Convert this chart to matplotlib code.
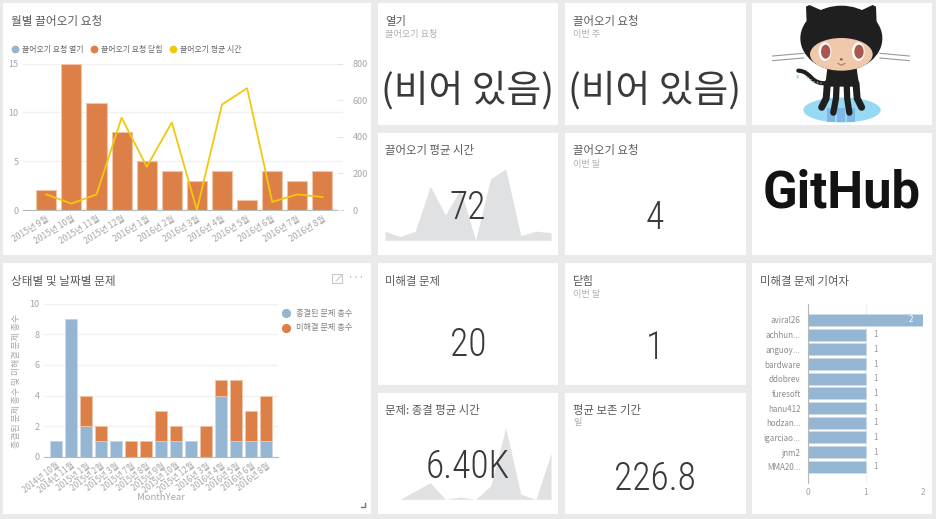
import matplotlib
matplotlib.use("Agg")
import matplotlib.pyplot as plt
from matplotlib.lines import Line2D
from matplotlib.patches import Ellipse, Polygon, Rectangle, PathPatch
from matplotlib.path import Path

plt.rcParams["font.family"] = ["Noto Sans CJK KR", "DejaVu Sans"]

W, H = 936, 519
BG = "#eaeaea"
BLUE = "#94b6d2"
ORANGE = "#dd8047"
YELLOW = "#f2c80f"
SPARK = "#dfe1e3"
TITLE = "#5a5a5a"
SUB = "#b0b0b0"
TICK = "#a6a6a6"
BIG = "#3a3a3a"

# monthly pull requests
pr_months = ["2015년 9월", "2015년 10월", "2015년 11월", "2015년 12월", "2016년 1월", "2016년 2월",
             "2016년 3월", "2016년 4월", "2016년 5월", "2016년 6월", "2016년 7월", "2016년 8월"]
pr_closed = [2, 15, 11, 8, 5, 4, 3, 4, 1, 4, 3, 4]
pr_avg_time = [85, 35, 85, 504, 236, 478, 0, 576, 665, 44, 85, 71]

# issues by state and date
issue_months = ["2014년 10월", "2014년 11월", "2015년 1월", "2015년 2월", "2015년 3월", "2015년 7월",
                "2015년 8월", "2015년 9월", "2015년 10월", "2015년 12월", "2016년 3월", "2016년 4월",
                "2016년 5월", "2016년 6월", "2016년 8월"]
issues_closed = [1, 9, 2, 1, 1, 0, 0, 1, 1, 1, 0, 4, 1, 1, 1]
issues_open = [0, 0, 2, 1, 0, 1, 1, 2, 1, 0, 2, 1, 4, 2, 3]

# open issue contributors
contributors = ["aviral26", "achhun...", "anguoy...", "bardware", "ddobrev", "furesoft",
                "hanu412", "hodzan...", "igarciao...", "jnm2", "MMA20..."]
contributor_counts = [2, 1, 1, 1, 1, 1, 1, 1, 1, 1, 1]

# sparkline behind 6.40K
close_time = [0, 0, 3900, 7800, 0, 1100, 0, 6300, 33700, 2400, 0, 21600]

cards = [(3, 3, 371, 255), (3, 263, 371, 514),
         (378, 3, 558, 125), (378, 133, 558, 255), (378, 263, 558, 385), (378, 393, 558, 514),
         (565, 3, 746, 125), (565, 133, 746, 255), (565, 263, 746, 385), (565, 393, 746, 514),
         (752, 3, 932, 125), (752, 133, 932, 255), (752, 263, 932, 514)]


def px_axes(x0, y0, x1, y1, **kw):
    return fig.add_axes([x0 / W, 1 - y1 / H, (x1 - x0) / W, (y1 - y0) / H], **kw)


fig = plt.figure(figsize=(W / 100, H / 100), dpi=100, facecolor=BG)

back = px_axes(0, 0, W, H, zorder=0)
back.set_xlim(0, W)
back.set_ylim(H, 0)
back.axis("off")
for x0, y0, x1, y1 in cards:
    back.add_patch(Rectangle((x0, y0), x1 - x0, y1 - y0, fc="white", ec="none"))

top = px_axes(0, 0, W, H, zorder=5)
top.set_xlim(0, W)
top.set_ylim(H, 0)
top.axis("off")
top.patch.set_alpha(0)


def style_axis(ax):
    for s in ["top", "left", "right"]:
        ax.spines[s].set_visible(False)
    ax.spines["bottom"].set_color("#b8b8b8")
    ax.set_axisbelow(True)
    ax.grid(axis="y", color="#f1f1f1", lw=1)
    ax.tick_params(axis="y", length=0, colors=TICK, labelsize=6.5, pad=3)
    ax.tick_params(axis="x", length=0, colors=TICK, labelsize=6.2, pad=3)


# pull requests per month
ax1 = px_axes(23, 63.5, 343, 210, zorder=1)
style_axis(ax1)
ax1.bar(range(len(pr_months)), pr_closed, width=0.8, color=ORANGE, edgecolor="#f0c4a8", lw=0.8)
ax1.set_xlim(-0.93, 11.82)
ax1.set_ylim(0, 15)
ax1.set_yticks([0, 5, 10, 15])
ax1.set_xticks(range(len(pr_months)))
ax1.set_xticklabels(pr_months, rotation=32, ha="right", rotation_mode="anchor")
ax1b = ax1.twinx()
ax1b.plot(range(len(pr_months)), pr_avg_time, color=YELLOW, lw=1.3)
ax1b.set_ylim(0, 800)
ax1b.set_yticks([0, 200, 400, 600, 800])
ax1b.tick_params(axis="y", direction="in", length=4, color="#e6e6e6", labelcolor=TICK, labelsize=6.5, pad=7)
for s in ax1b.spines.values():
    s.set_visible(False)
legend1 = [Line2D([], [], ls="", marker="o", ms=4.6, color=c, label=t) for c, t in
           [(BLUE, "끌어오기 요청 열기"), (ORANGE, "끌어오기 요청 닫힘"), (YELLOW, "끌어오기 평균 시간")]]
ax1.legend(handles=legend1, ncol=3, frameon=False, fontsize=5.7, labelcolor="#666666", loc="lower left",
           bbox_to_anchor=(-0.05, 1.065), borderaxespad=0, borderpad=0, handletextpad=-0.1, columnspacing=0.3)

# issues by state and date
ax2 = px_axes(43.7, 303.7, 278.3, 456.7, zorder=1)
style_axis(ax2)
x2 = list(range(len(issue_months)))
ax2.bar(x2, issues_closed, width=0.8, color=BLUE, edgecolor="#cddcea", lw=0.6)
ax2.bar(x2, issues_open, bottom=issues_closed, width=0.8, color=ORANGE, edgecolor="#f0c4a8", lw=0.6)
ax2.set_xlim(-0.8, 14.8)
ax2.set_ylim(0, 10)
ax2.set_yticks([0, 2, 4, 6, 8, 10])
ax2.set_xticks(x2)
ax2.set_xticklabels(issue_months, rotation=38, ha="right", rotation_mode="anchor", fontsize=5.9)
ax2.set_xlabel("MonthYear", fontsize=6.8, color=TICK)
ax2.xaxis.set_label_coords(0.5, -0.235)
ax2.set_ylabel("종결된 문제 총수 및 미해결 문제 총수", fontsize=6.4, color=TICK)
ax2.yaxis.set_label_coords(-0.097, 0.495)
legend2 = [Line2D([], [], ls="", marker="o", ms=5.6, color=c, label=t) for c, t in
           [(BLUE, "종결된 문제 총수"), (ORANGE, "미해결 문제 총수")]]
ax2.legend(handles=legend2, frameon=False, fontsize=5.9, labelcolor="#808080", loc="upper left",
           bbox_to_anchor=(1.0, 0.965), borderaxespad=0, borderpad=0, handletextpad=0.1, labelspacing=0.65)

# contributors
ax3 = px_axes(808.3, 304, 923, 482.7, zorder=1)
y3 = list(range(len(contributors)))
bars = ax3.barh(y3, contributor_counts, height=0.8, color=BLUE, edgecolor="#cddcea", lw=0.5)
ax3.set_xlim(0, 2)
ax3.set_ylim(11.09, -1.09)
ax3.set_yticks(y3)
ax3.set_yticklabels(contributors)
ax3.set_xticks([0, 1, 2])
ax3.grid(axis="x", color="#f1f1f1", lw=1)
ax3.set_axisbelow(True)
for s in ["top", "right", "bottom"]:
    ax3.spines[s].set_visible(False)
ax3.spines["left"].set_color("#b8b8b8")
ax3.tick_params(axis="y", length=0, colors="#8c8c8c", labelsize=5.8, pad=5.5)
ax3.tick_params(axis="x", length=0, colors=TICK, labelsize=6.1, pad=4)
ax3.bar_label(bars, labels=["2"] + [""] * 10, padding=-10, color="white", fontsize=5.8)
ax3.bar_label(bars, labels=[""] + ["1"] * 10, padding=5.5, color="#999999", fontsize=5.8)

# sparklines
ax4 = px_axes(385, 169, 551, 240.3, zorder=1)
ax4.fill_between(range(len(pr_avg_time)), pr_avg_time, color=SPARK, lw=0)
ax4.set_xlim(0, 11)
ax4.set_ylim(0, 665)
ax4.axis("off")

ax5 = px_axes(385, 427.7, 551, 499.3, zorder=1)
ax5.fill_between(range(len(close_time)), close_time, color=SPARK, lw=0)
ax5.set_xlim(0, 11)
ax5.set_ylim(0, max(close_time))
ax5.axis("off")

# card text
titles = [(11, 21.5, "월별 끌어오기 요청", 8.4), (11, 281.5, "상태별 및 날짜별 문제", 8.4),
          (385, 21.5, "열기", 8.2), (385, 150.5, "끌어오기 평균 시간", 8.2),
          (385, 281.5, "미해결 문제", 8.2), (385, 410.5, "문제: 종결 평균 시간", 8.2),
          (573, 21.5, "끌어오기 요청", 8.2), (573, 150.5, "끌어오기 요청", 8.2),
          (573, 281.5, "닫힘", 8.2), (573, 410.5, "평균 보존 기간", 8.2),
          (760, 281.5, "미해결 문제 기여자", 8.2)]
for x, y, t, fs in titles:
    top.text(x, y, t, fontsize=fs, color=TITLE, va="center")

subs = [(385, 34, "끌어오기 요청"), (573, 34, "이번 주"), (573, 164, "이번 달"), (573, 294, "이번 달"), (573, 423, "일")]
for x, y, t in subs:
    top.text(x, y, t, fontsize=6.6, color=SUB, va="center")

top.text(468, 91, "(비어 있음)", fontsize=27.2, color=BIG, ha="center", va="center", fontweight="light")
top.text(655, 91, "(비어 있음)", fontsize=27.2, color=BIG, ha="center", va="center", fontweight="light")

NUM_FONT = ["Roboto Condensed", "Lato", "DejaVu Sans"]
numbers = [(468, 208, "72"), (655, 218, "4"), (468, 345, "20"), (655, 348, "1"),
           (468, 467, "6.40K"), (655, 479, "226.8")]
for x, y, t in numbers:
    top.text(x, y, t, fontsize=27, color=BIG, ha="center", va="center", family=NUM_FONT, fontweight="light")

# tile icons of the issues chart
top.add_patch(Rectangle((332, 274), 10, 9, fc="none", ec="#c8c8c8", lw=0.8))
top.plot([336, 342], [281, 275], color="#c8c8c8", lw=0.8)
top.text(356, 278, "···", fontsize=7, color="#a8a8a8", ha="center", va="center")
top.plot([361, 365, 365], [507, 507, 503], color="#777777", lw=1)

# GitHub logo
top.text(842, 194, "GitHub", fontsize=36.5, fontweight="bold", color="#141113", ha="center", va="center",
         family=["Roboto", "DejaVu Sans"])

# octocat
ox, oy = 750, 0
def cat(x, y):
    return (ox + x / 3, oy + y / 3)

DARK = "#1f1f1f"
top.add_patch(Ellipse(cat(276, 330), 232 / 3, 75 / 3, fc="#97d9f2", ec="none"))
for bx in [240, 270, 300]:
    top.add_patch(Rectangle(cat(bx - 10, 325), 8, 14, fc="#7fb8e6", ec="none"))
for yy in [168, 182]:
    top.plot(*zip(cat(68, yy), cat(160, yy - 8)), color="#999999", lw=0.8)
    top.plot(*zip(cat(390, yy - 8), cat(478, yy)), color="#999999", lw=0.8)

# tail
tail = Path([cat(145, 212), cat(190, 215), cat(175, 255), cat(240, 250)],
            [Path.MOVETO, Path.CURVE4, Path.CURVE4, Path.CURVE4])
top.add_patch(PathPatch(tail, fc="none", ec=DARK, lw=3, capstyle="round"))
top.plot(*zip(cat(172, 232), cat(190, 245), cat(215, 250)), ls=":", color="#6fc1e8", lw=1)
top.add_patch(Ellipse(cat(143, 230), 2, 4, fc="#97d9f2", ec="none"))

# body and tentacles
top.add_patch(Polygon([cat(232, 205), cat(320, 205), cat(328, 260), cat(225, 260)], fc=DARK, ec="none"))
for x0, x1, y1, lw in [(232, 215, 322, 5), (260, 250, 338, 4.5), (290, 298, 338, 4.5), (318, 335, 322, 5)]:
    top.plot(*zip(cat(x0, 250), cat(x0 + (x1 - x0) * 0.2, 295), cat(x1, y1)), color=DARK, lw=lw,
             solid_capstyle="round", solid_joinstyle="round")

# head
top.add_patch(Polygon([cat(170, 70), cat(168, 20), cat(178, 15), cat(235, 40)], fc=DARK, ec="none"))
top.add_patch(Polygon([cat(380, 70), cat(378, 20), cat(368, 15), cat(315, 40)], fc=DARK, ec="none"))
top.add_patch(Ellipse(cat(274, 115), 246 / 3, 196 / 3, fc=DARK, ec="none"))
top.add_patch(Ellipse(cat(274, 163), 188 / 3, 98 / 3, fc="#f0c8ac", ec="none"))
for ex in [225, 325]:
    top.add_patch(Ellipse(cat(ex, 155), 38 / 3, 56 / 3, fc="white", ec="none"))
    top.add_patch(Ellipse(cat(ex + 2, 155), 28 / 3, 42 / 3, fc="#a9564c", ec="none"))
top.add_patch(Ellipse(cat(274, 178), 3, 2.5, fc="#a9564c", ec="none"))
top.plot(*zip(cat(264, 190), cat(274, 196), cat(285, 190)), color="#a9564c", lw=0.6)

fig.savefig("out.png", dpi=100, facecolor=BG)
